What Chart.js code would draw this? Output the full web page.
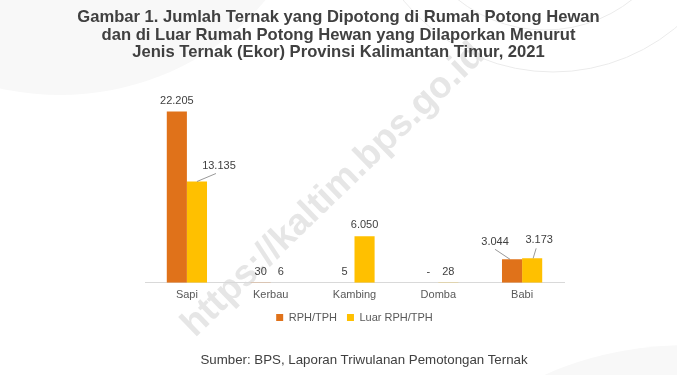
<!DOCTYPE html>
<html>
<head>
<meta charset="utf-8">
<script src="https://cdn.jsdelivr.net/npm/chart.js@4/dist/chart.umd.min.js"></script>
<style>
  html, body { margin: 0; padding: 0; background: #fff; }
  #wrap { position: relative; width: 677px; height: 375px; overflow: hidden; font-family: "Liberation Sans", Arial, sans-serif; }
  #c { position: absolute; left: 0; top: 0; }
  #title { position: absolute; left: 0; top: 8px; width: 677px; text-align: center; font-weight: bold; font-size: 16.6px; line-height: 17.5px; color: #404040; }
  #src { position: absolute; left: 0; top: 352px; width: 677px; padding-left: 51px; box-sizing: border-box; text-align: center; font-size: 13.3px; color: #404040; }
</style>
</head>
<body>
<div id="wrap">
  <canvas id="c" width="677" height="375"></canvas>
  <div id="title">Gambar 1. Jumlah Ternak yang Dipotong di Rumah Potong Hewan<br>dan di Luar Rumah Potong Hewan yang Dilaporkan Menurut<br>Jenis Ternak (Ekor) Provinsi Kalimantan Timur, 2021</div>
  <div id="src">Sumber: BPS, Laporan Triwulanan Pemotongan Ternak</div>
</div>
<script>
const categories = ["Sapi", "Kerbau", "Kambing", "Domba", "Babi"];
const seriesNames = ["RPH/TPH", "Luar RPH/TPH"];
const rphValues = [22205, 30, 5, 0, 3044];
const luarValues = [13135, 6, 6050, 28, 3173];
const watermarkText = "https://kaltim.bps.go.id";

function fmt(n) {
  if (n === 0) return "-";
  return String(n).replace(/\B(?=(\d{3})+(?!\d))/g, ".");
}

// label placement tweaks (style only): offsets relative to bar top center
const labelOffsets = {
  "1-0": { dx: 22, dy: -16, line: [0, 0, 19, -8] },
  "0-4": { dx: -17, dy: -17, line: [-2, 0, -17, -10] },
  "1-4": { dx: 7, dy: -18, line: [1, 0, 4, -10] }
};

const backgroundPlugin = {
  id: "bg",
  beforeDraw(chart) {
    const ctx = chart.ctx;
    ctx.save();
    ctx.fillStyle = "#f8f8f8";
    ctx.beginPath();
    ctx.ellipse(60, -150, 260, 245, 0, 0, Math.PI * 2);
    ctx.fill();
    ctx.beginPath();
    ctx.ellipse(690, 520, 260, 175, 0, 0, Math.PI * 2);
    ctx.fill();
    ctx.strokeStyle = "#ebebeb";
    ctx.lineWidth = 1;
    ctx.beginPath();
    ctx.arc(553, -120, 192, 0, Math.PI * 2);
    ctx.stroke();
    ctx.beginPath();
    ctx.arc(545, -110, 140, 0, Math.PI * 2);
    ctx.stroke();
    // watermark
    ctx.translate(195, 338);
    ctx.rotate(-44 * Math.PI / 180);
    ctx.font = "bold 37px 'Liberation Sans', Arial, sans-serif";
    ctx.fillStyle = "#e6e6e6";
    ctx.textBaseline = "alphabetic";
    ctx.fillText(watermarkText, 0, 0);
    ctx.restore();
  }
};

const labelPlugin = {
  id: "valueLabels",
  afterDatasetsDraw(chart) {
    const ctx = chart.ctx;
    ctx.save();
    ctx.font = "11px 'Liberation Sans', Arial, sans-serif";
    ctx.fillStyle = "#404040";
    ctx.textAlign = "center";
    ctx.textBaseline = "middle";
    chart.data.datasets.forEach((ds, di) => {
      const meta = chart.getDatasetMeta(di);
      meta.data.forEach((bar, i) => {
        const off = labelOffsets[di + "-" + i];
        const x = bar.x, y = bar.y;
        if (off) {
          ctx.strokeStyle = "#7f7f7f";
          ctx.lineWidth = 0.8;
          ctx.beginPath();
          ctx.moveTo(x + off.line[0], y + off.line[1]);
          ctx.lineTo(x + off.line[2], y + off.line[3]);
          ctx.stroke();
          ctx.fillText(fmt(ds.data[i]), x + off.dx, y + off.dy);
        } else {
          ctx.fillText(fmt(ds.data[i]), x, y - 11);
        }
      });
    });
    ctx.restore();
  }
};

new Chart(document.getElementById("c"), {
  type: "bar",
  data: {
    labels: categories,
    datasets: [
      { label: seriesNames[0], data: rphValues, backgroundColor: "#E0721A", categoryPercentage: 0.48, barPercentage: 1.0 },
      { label: seriesNames[1], data: luarValues, backgroundColor: "#FFC000", categoryPercentage: 0.48, barPercentage: 1.0 }
    ]
  },
  options: {
    responsive: false,
    animation: false,
    devicePixelRatio: 1,
    layout: { padding: { top: 90, left: 145, right: 113, bottom: 42 } },
    plugins: {
      title: { display: false },
      tooltip: { enabled: false },
      legend: {
        position: "bottom",
        labels: {
          boxWidth: 7, boxHeight: 7, padding: 10,
          color: "#595959",
          font: { family: "'Liberation Sans', Arial, sans-serif", size: 11 }
        }
      }
    },
    scales: {
      x: {
        grid: { display: false, drawTicks: false },
        border: { display: true, color: "#d9d9d9", width: 1 },
        ticks: { color: "#595959", padding: 6, font: { family: "'Liberation Sans', Arial, sans-serif", size: 11 } },
        afterFit(scale) { scale.height -= 6; }
      },
      y: {
        display: false,
        min: 0,
        max: 25000
      }
    }
  },
  plugins: [backgroundPlugin, labelPlugin]
});
</script>
</body>
</html>
